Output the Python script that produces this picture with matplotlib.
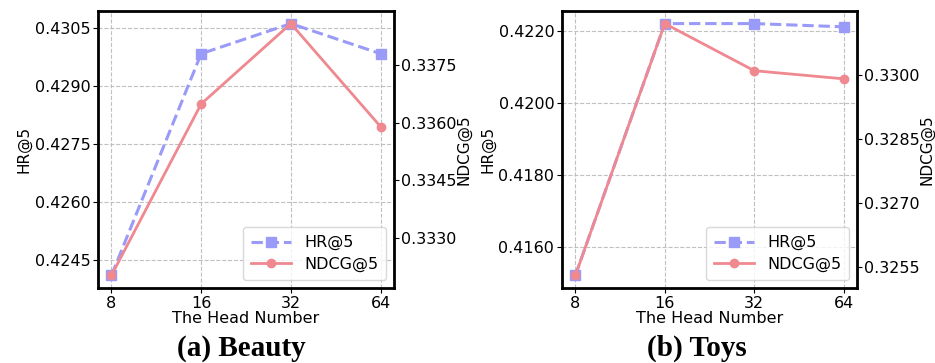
import numpy as np
import matplotlib
matplotlib.use("Agg")
import matplotlib.pyplot as plt

heads = ["8", "16", "32", "64"]

beauty_hr = [0.42409, 0.42983, 0.43061, 0.42983]
beauty_ndcg = [0.33203, 0.33649, 0.33858, 0.33590]
beauty_hr_ticks = [0.4245, 0.4260, 0.4275, 0.4290, 0.4305]
beauty_ndcg_ticks = [0.3330, 0.3345, 0.3360, 0.3375]

toys_hr = [0.41521, 0.42221, 0.42221, 0.42212]
toys_ndcg = [0.32531, 0.33119, 0.33009, 0.32990]
toys_hr_ticks = [0.4160, 0.4180, 0.4200, 0.4220]
toys_ndcg_ticks = [0.3255, 0.3270, 0.3285, 0.3300]

hr_color = "#9a9af8"
ndcg_color = "#f08890"

plt.rcParams['font.family'] = ['DejaVu Sans']


def panel(fig, ax, hr, ndcg, hr_ticks, ndcg_ticks, title, title_x):
    x = np.arange(len(heads))
    ax2 = ax.twinx()
    l1, = ax.plot(x, hr, color=hr_color, ls='--', lw=2.2, marker='s', ms=7, label='HR@5')
    l2, = ax2.plot(x, ndcg, color=ndcg_color, ls='-', lw=2, marker='o', ms=6, label='NDCG@5')
    # ndcg is drawn on top of hr
    ax.set_zorder(0)
    ax2.set_zorder(1)
    ax2.patch.set_visible(False)
    ax.set_yticks(hr_ticks)
    ax.set_yticklabels(["%.4f" % t for t in hr_ticks])
    ax2.set_yticks(ndcg_ticks)
    ax2.set_yticklabels(["%.4f" % t for t in ndcg_ticks])
    ax.set_xticks(x)
    ax.set_xticklabels(heads)
    ax.tick_params(labelsize=11.5, pad=2)
    ax2.tick_params(labelsize=11.5, pad=1.5)
    ax.set_xlabel("The Head Number", fontsize=11.5, labelpad=0)
    ax.set_ylabel("HR@5", fontsize=11, labelpad=2)
    ax2.set_ylabel("NDCG@5", fontsize=11, labelpad=0)
    ax.grid(True, ls='--', color='#c0c0c0', lw=0.8)
    for s in ax2.spines.values():
        s.set_linewidth(2)
        s.set_color('black')
    leg = ax2.legend([l1, l2], ['HR@5', 'NDCG@5'], loc='lower right', fontsize=11.5,
                     handlelength=2.5, borderpad=0.5, labelspacing=0.4)
    leg.get_frame().set_edgecolor('#d0d0d0')
    fig.text(title_x, 0.04, title, ha='center', va='center',
             fontsize=21, fontweight='bold', family='Liberation Serif')


fig = plt.figure(figsize=(9.35, 3.63), dpi=100)
axa = fig.add_axes([0.1048, 0.2066, 0.3166, 0.7631])
axb = fig.add_axes([0.601, 0.2066, 0.3156, 0.7631])
panel(fig, axa, beauty_hr, beauty_ndcg, beauty_hr_ticks, beauty_ndcg_ticks, "(a) Beauty", 0.258)
panel(fig, axb, toys_hr, toys_ndcg, toys_hr_ticks, toys_ndcg_ticks, "(b) Toys", 0.745)

fig.savefig("out.png", dpi=100)
